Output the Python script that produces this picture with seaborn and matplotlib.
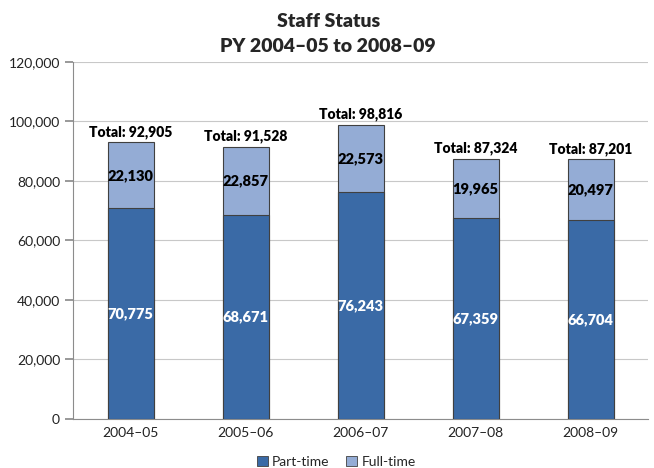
import matplotlib
matplotlib.use("Agg")
import matplotlib.pyplot as plt
import seaborn as sns
import pandas as pd
from matplotlib.patches import Patch
from matplotlib.ticker import FuncFormatter

years = ["2004–05", "2005–06", "2006–07", "2007–08", "2008–09"]
part_time = [70775, 68671, 76243, 67359, 66704]
full_time = [22130, 22857, 22573, 19965, 20497]
totals = [92905, 91528, 98816, 87324, 87201]

c_part = "#3a6aa6"
c_full = "#94acd5"

sns.set_theme(style="white")
plt.rcParams["font.family"] = ["Lato", "DejaVu Sans"]

fig = plt.figure(figsize=(6.54, 4.68), dpi=100)
ax = fig.add_axes([0.112, 0.105, 0.879, 0.763])

df = pd.DataFrame({"year": years, "part": part_time, "full": full_time, "total": totals})

sns.barplot(data=df, x="year", y="total", color=c_full, width=0.4, ax=ax,
            edgecolor="#404040", linewidth=0.8, saturation=1, zorder=2)
sns.barplot(data=df, x="year", y="part", color=c_part, width=0.4, ax=ax,
            edgecolor="#404040", linewidth=0.8, saturation=1, zorder=3)

ax.set_ylim(0, 120000)
ax.set_yticks(range(0, 120001, 20000))
ax.yaxis.set_major_formatter(FuncFormatter(lambda v, p: f"{int(v):,}"))
ax.grid(axis="y", color="#c8c8c8", linewidth=0.8, zorder=0)
ax.set_axisbelow(True)
ax.set_xlabel("")
ax.set_ylabel("")
for s in ["top", "right"]:
    ax.spines[s].set_visible(False)
for s in ["left", "bottom"]:
    ax.spines[s].set_color("#8c8c8c")
    ax.spines[s].set_linewidth(0.8)
ax.tick_params(axis="y", length=6, color="#8c8c8c", labelsize=10, labelcolor="#222222", left=True)
ax.tick_params(axis="x", length=0, labelsize=10, labelcolor="#222222", pad=6)

for i in range(len(years)):
    ax.text(i, part_time[i] / 2, f"{part_time[i]:,}", ha="center", va="center",
            color="white", fontsize=10.5, fontweight="heavy", zorder=5)
    ax.text(i, part_time[i] + full_time[i] / 2, f"{full_time[i]:,}", ha="center", va="center",
            color="black", fontsize=10.5, fontweight="heavy", zorder=5)
    ax.text(i, totals[i] + 1200, f"Total: {totals[i]:,}", ha="center", va="bottom",
            color="black", fontsize=10, fontweight="heavy", zorder=5)

fig.text(0.502, 0.955, "Staff Status", ha="center", va="center", fontsize=14, fontweight="heavy")
fig.text(0.502, 0.9, "PY 2004–05 to 2008–09", ha="center", va="center", fontsize=14, fontweight="heavy")

handles = [Patch(facecolor=c_part, edgecolor="#404040", linewidth=0.6, label="Part-time"),
           Patch(facecolor=c_full, edgecolor="#404040", linewidth=0.6, label="Full-time")]
fig.legend(handles=handles, loc="center", bbox_to_anchor=(0.514, 0.013), ncol=2, frameon=False,
           fontsize=10, handlelength=0.8, handleheight=0.8, handletextpad=0.3, columnspacing=1.2)

fig.savefig("out.png", dpi=100)
